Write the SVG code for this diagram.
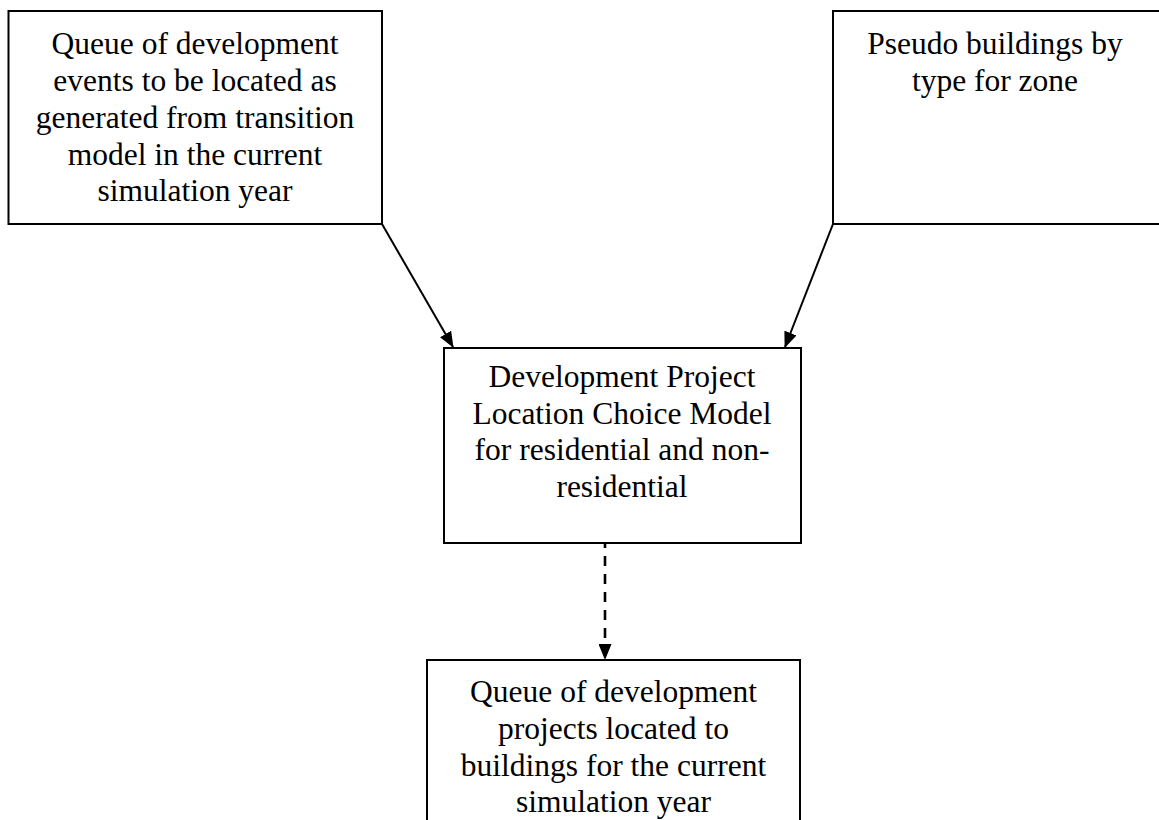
<svg xmlns="http://www.w3.org/2000/svg" width="1159" height="820" viewBox="0 0 1159 820">
<style>
.box{fill:#fff;stroke:#000;stroke-width:2}
.t{font-family:"Liberation Serif","Times New Roman",serif;font-size:31.5px;fill:#000;text-anchor:middle}
.c{stroke:#000;stroke-width:2;fill:none}
.d{stroke:#000;stroke-width:2.6;fill:none;stroke-dasharray:10,8;stroke-dashoffset:5}
</style>
<defs>
<marker id="ah" markerWidth="16" markerHeight="13" refX="15" refY="6.5" orient="auto" markerUnits="userSpaceOnUse">
<path d="M0,0 L16,6.5 L0,13 Z" fill="#000"/>
</marker>
</defs>
<rect width="1159" height="820" fill="#fff"/>
<g id="connectors">
<line class="c" x1="382" y1="224" x2="453" y2="347" marker-end="url(#ah)"/>
<line class="c" x1="833" y1="224" x2="785" y2="347" marker-end="url(#ah)"/>
<line class="d" x1="605" y1="543" x2="605" y2="659" marker-end="url(#ah)"/>
</g>
<g id="node-queue-events">
<rect class="box" x="8.5" y="11" width="373.5" height="213"/>
<text class="t"><tspan x="195" y="54">Queue of development</tspan><tspan x="195" y="91">events to be located as</tspan><tspan x="195" y="128">generated from transition</tspan><tspan x="195" y="164.5">model in the current</tspan><tspan x="195" y="201">simulation year</tspan></text>
</g>
<g id="node-pseudo-buildings">
<rect class="box" x="833" y="11" width="330" height="213"/>
<text class="t"><tspan x="995" y="54">Pseudo buildings by</tspan><tspan x="995" y="91">type for zone</tspan></text>
</g>
<g id="node-location-choice">
<rect class="box" x="444" y="348" width="357" height="195"/>
<text class="t"><tspan x="622" y="387">Development Project</tspan><tspan x="622" y="423.5">Location Choice Model</tspan><tspan x="622" y="460">for residential and non-</tspan><tspan x="622" y="497">residential</tspan></text>
</g>
<g id="node-queue-projects">
<rect class="box" x="427" y="660" width="373" height="170"/>
<text class="t"><tspan x="613.5" y="702">Queue of development</tspan><tspan x="613.5" y="739">projects located to</tspan><tspan x="613.5" y="775.5">buildings for the current</tspan><tspan x="613.5" y="812">simulation year</tspan></text>
</g>
</svg>
